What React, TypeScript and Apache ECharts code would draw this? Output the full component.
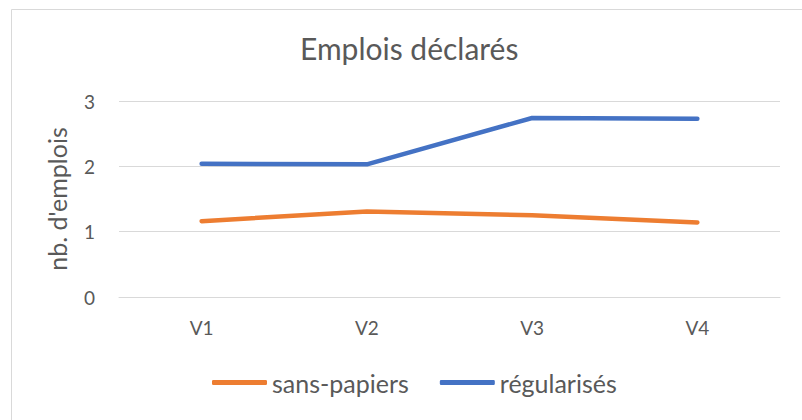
import React, { useEffect, useRef } from "react";
import * as echarts from "echarts";

const categories = ["V1", "V2", "V3", "V4"];
const sansPapiers = [1.16, 1.31, 1.25, 1.14];
const regularises = [2.04, 2.03, 2.74, 2.73];
const yTicks = [0, 1, 2, 3];

const FONT = "Lato, 'Open Sans', sans-serif";
const TXT = "#595959";

export default function App() {
  const ref = useRef<HTMLDivElement>(null);
  useEffect(() => {
    document.body.style.margin = "0";
    const chart = echarts.init(ref.current!, null, { renderer: "svg" });
    chart.setOption({
      animation: false,
      backgroundColor: "#ffffff",
      textStyle: { fontFamily: FONT },
      title: {
        text: "Emplois déclarés",
        left: 295,
        top: 28,
        textStyle: { fontFamily: FONT, fontSize: 30, fontWeight: "normal", color: TXT },
      },
      graphic: [
        { type: "line", shape: { x1: 11.5, y1: 9.5, x2: 802, y2: 9.5 }, style: { stroke: "#d9d9d9", lineWidth: 1 } },
        { type: "line", shape: { x1: 11.5, y1: 9.5, x2: 11.5, y2: 420 }, style: { stroke: "#d9d9d9", lineWidth: 1 } },
      ],
      legend: {
        left: 207,
        top: 365,
        icon: "roundRect",
        itemWidth: 55,
        itemHeight: 5,
        itemGap: 31,
        itemStyle: { borderWidth: 0 },
        textStyle: { fontFamily: FONT, fontSize: 25, color: TXT },
        data: ["sans-papiers", "régularisés"],
      },
      grid: { left: 119, right: 22, top: 101, bottom: 123 },
      xAxis: {
        type: "category",
        data: categories,
        axisLine: { show: true, lineStyle: { color: "#d9d9d9", width: 1 } },
        axisTick: { show: false },
        axisLabel: { color: TXT, fontSize: 19, fontFamily: FONT, margin: 21 },
      },
      yAxis: {
        type: "value",
        min: yTicks[0],
        max: yTicks[yTicks.length - 1],
        interval: 1,
        name: "nb. d'emplois",
        nameLocation: "middle",
        nameGap: 50,
        nameTextStyle: { color: TXT, fontSize: 25, fontFamily: FONT },
        axisLine: { show: false },
        axisTick: { show: false },
        splitLine: { lineStyle: { color: "#d9d9d9", width: 1 } },
        axisLabel: { color: TXT, fontSize: 19, fontFamily: FONT, margin: 24 },
      },
      series: [
        {
          name: "sans-papiers",
          type: "line",
          data: sansPapiers,
          symbol: "none",
          color: "#ed7d31",
          lineStyle: { width: 4.5, color: "#ed7d31", cap: "round", join: "round" },
        },
        {
          name: "régularisés",
          type: "line",
          data: regularises,
          symbol: "none",
          color: "#4472c4",
          lineStyle: { width: 4.5, color: "#4472c4", cap: "round", join: "round" },
        },
      ],
    });
    return () => chart.dispose();
  }, []);
  return <div ref={ref} style={{ position: "absolute", left: 0, top: 0, width: 802, height: 420 }} />;
}
